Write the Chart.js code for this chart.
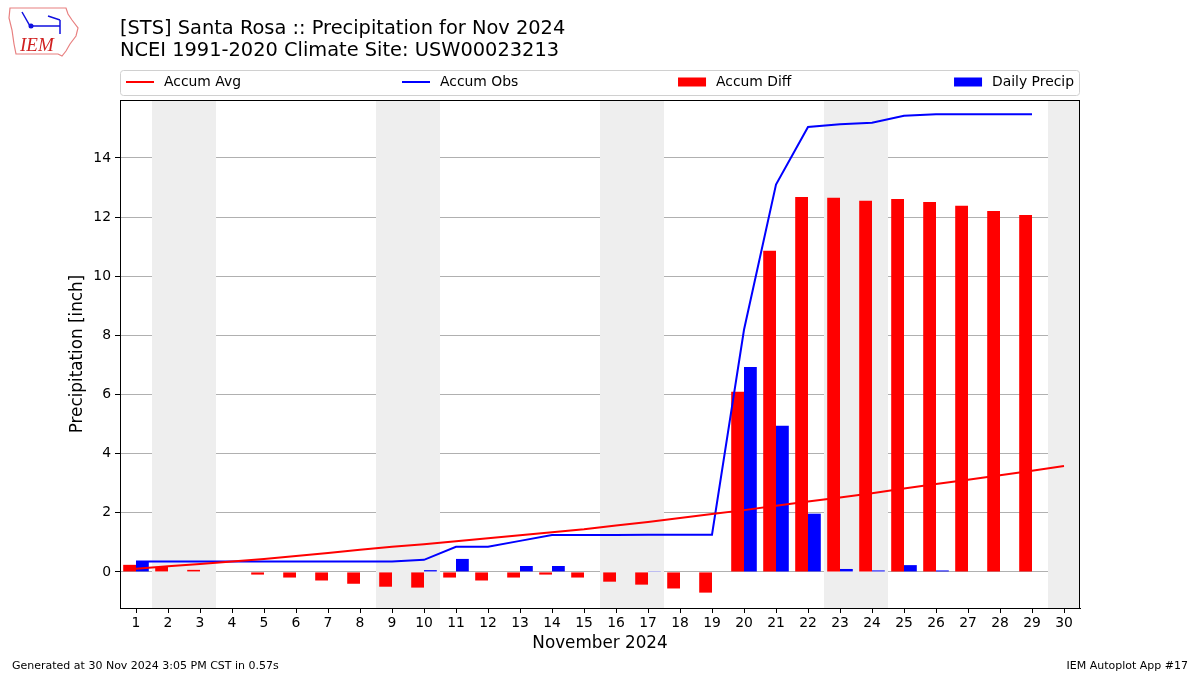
<!DOCTYPE html>
<html>
<head>
<meta charset="utf-8">
<script src="https://cdn.jsdelivr.net/npm/chart.js@4"></script>
<style>
  html, body { margin: 0; padding: 0; background: #fff; }
  canvas { display: block; }
</style>
</head>
<body>
<canvas id="chart" width="1200" height="675"></canvas>
<script>
// November 2024 days
const days = ['1','2','3','4','5','6','7','8','9','10','11','12','13','14','15',
              '16','17','18','19','20','21','22','23','24','25','26','27','28','29','30'];

// Weekend days (shaded)
const weekendDays = [2, 3, 9, 10, 16, 17, 23, 24, 30];

// Accumulated climatology average [inch]
const accumAvg = [0.11, 0.19, 0.27, 0.35, 0.44, 0.54, 0.64, 0.75, 0.85, 0.94,
                  1.04, 1.14, 1.24, 1.34, 1.44, 1.57, 1.69, 1.82, 1.96, 2.09,
                  2.24, 2.38, 2.52, 2.66, 2.82, 2.97, 3.12, 3.27, 3.42, 3.58];

// Accumulated observed [inch]
const accumObs = [0.35, 0.35, 0.35, 0.35, 0.35, 0.35, 0.35, 0.35, 0.35, 0.41,
                  0.85, 0.85, 1.05, 1.25, 1.25, 1.25, 1.26, 1.26, 1.26, 8.19,
                  13.10, 15.05, 15.14, 15.19, 15.43, 15.48, 15.48, 15.48, 15.48, null];

// Accumulated difference (obs - avg) [inch]
const accumDiff = [0.24, 0.17, 0.07, 0.0, -0.09, -0.19, -0.29, -0.40, -0.50, -0.53,
                   -0.19, -0.29, -0.19, -0.09, -0.19, -0.33, -0.43, -0.56, -0.70, 6.09,
                   10.86, 12.68, 12.65, 12.55, 12.61, 12.51, 12.38, 12.21, 12.07, null];

// Daily precipitation [inch]
const dailyPrecip = [0.35, 0, 0, 0, 0, 0, 0, 0, 0, 0.06,
                     0.44, 0, 0.20, 0.20, 0, 0, 0.01, 0, 0, 6.93,
                     4.94, 1.97, 0.10, 0.05, 0.23, 0.05, 0, 0, 0, null];

const yTicks = [0, 2, 4, 6, 8, 10, 12, 14];

const FONT = "'DejaVu Sans', sans-serif";

// Weekend shading behind the bars
const weekendShade = {
    id: 'weekendShade',
    beforeDatasetsDraw(chart) {
        const ctx = chart.ctx;
        const x = chart.scales.x;
        const area = chart.chartArea;
        const half = (x.getPixelForValue(1) - x.getPixelForValue(0)) / 2;
        ctx.save();
        ctx.fillStyle = '#eeeeee';
        weekendDays.forEach(d => {
            const cx = x.getPixelForValue(d - 1);
            const l = Math.max(area.left, cx - half);
            const r = Math.min(area.right, cx + half);
            ctx.fillRect(l, area.top, r - l, area.bottom - area.top);
        });
        ctx.restore();
    }
};

// Frame, titles, legend, footer and logo
const decorations = {
    id: 'decorations',
    afterDraw(chart) {
        const ctx = chart.ctx;
        const area = chart.chartArea;
        ctx.save();

        // plot frame
        ctx.strokeStyle = '#000';
        ctx.lineWidth = 1;
        ctx.strokeRect(area.left + 0.5, area.top + 0.5, area.right - area.left - 1, area.bottom - area.top);

        // titles
        ctx.fillStyle = '#000';
        ctx.font = '19.4px ' + FONT;
        ctx.textBaseline = 'middle';
        ctx.textAlign = 'left';
        ctx.fillText('[STS] Santa Rosa :: Precipitation for Nov 2024', 120, 29);
        ctx.fillText('NCEI 1991-2020 Climate Site: USW00023213', 120, 51);

        // legend box
        const lx = area.left, ly = 70, lw = area.right - area.left, lh = 25;
        ctx.strokeStyle = '#d0d0d0';
        ctx.lineWidth = 1;
        ctx.beginPath();
        ctx.roundRect(lx + 0.5, ly + 0.5, lw - 1, lh, 3);
        ctx.stroke();

        const items = [
            { label: 'Accum Avg', color: '#ff0000', type: 'line' },
            { label: 'Accum Obs', color: '#0000ff', type: 'line' },
            { label: 'Accum Diff', color: '#ff0000', type: 'box' },
            { label: 'Daily Precip', color: '#0000ff', type: 'box' }
        ];
        ctx.font = '13.9px ' + FONT;
        const lastW = 38 + ctx.measureText(items[3].label).width;
        const step = (lw - 12 - lastW) / 3;
        items.forEach((it, i) => {
            const sx = lx + 6 + i * step;
            const cy = ly + 12;
            if (it.type === 'line') {
                ctx.strokeStyle = it.color;
                ctx.lineWidth = 2;
                ctx.beginPath();
                ctx.moveTo(sx, cy);
                ctx.lineTo(sx + 28, cy);
                ctx.stroke();
            } else {
                ctx.fillStyle = it.color;
                ctx.fillRect(sx, cy - 4.5, 28, 9);
            }
            ctx.fillStyle = '#000';
            ctx.fillText(it.label, sx + 38, cy);
        });

        // footer
        ctx.font = '11px ' + FONT;
        ctx.fillText('Generated at 30 Nov 2024 3:05 PM CST in 0.57s', 12, 666);
        ctx.textAlign = 'right';
        ctx.fillText('IEM Autoplot App #17', 1188, 666);

        // logo
        ctx.strokeStyle = '#e88080';
        ctx.lineWidth = 1.2;
        ctx.beginPath();
        ctx.moveTo(10, 8);
        ctx.lineTo(66, 8);
        ctx.lineTo(68, 14);
        ctx.lineTo(72, 20);
        ctx.lineTo(78, 28);
        ctx.lineTo(76, 36);
        ctx.lineTo(70, 44);
        ctx.lineTo(66, 51);
        ctx.lineTo(62, 56);
        ctx.lineTo(58, 54);
        ctx.lineTo(16, 54);
        ctx.lineTo(14, 44);
        ctx.lineTo(12, 30);
        ctx.lineTo(9, 18);
        ctx.closePath();
        ctx.stroke();
        ctx.strokeStyle = '#1010e0';
        ctx.fillStyle = '#1010e0';
        ctx.lineWidth = 1.5;
        ctx.beginPath();
        ctx.moveTo(22, 12); ctx.lineTo(30, 26); ctx.lineTo(60, 26);
        ctx.moveTo(60, 20); ctx.lineTo(60, 34);
        ctx.moveTo(48, 16); ctx.lineTo(60, 20);
        ctx.stroke();
        ctx.beginPath();
        ctx.arc(31, 26, 2.5, 0, Math.PI * 2);
        ctx.fill();
        ctx.fillStyle = '#d02020';
        ctx.font = 'italic 19px "Liberation Serif", serif';
        ctx.textAlign = 'left';
        ctx.fillText('IEM', 20, 46);

        ctx.restore();
    }
};

new Chart(document.getElementById('chart'), {
    data: {
        labels: days,
        datasets: [
            {
                type: 'line', label: 'Accum Avg', data: accumAvg,
                borderColor: '#ff0000', borderWidth: 2, pointRadius: 0,
                tension: 0, order: 0
            },
            {
                type: 'line', label: 'Accum Obs', data: accumObs,
                borderColor: '#0000ff', borderWidth: 2, pointRadius: 0,
                tension: 0, order: 0
            },
            {
                type: 'bar', label: 'Accum Diff', data: accumDiff,
                backgroundColor: '#ff0000', borderWidth: 0,
                barPercentage: 1.0, categoryPercentage: 0.8, order: 1
            },
            {
                type: 'bar', label: 'Daily Precip', data: dailyPrecip,
                backgroundColor: '#0000ff', borderWidth: 0,
                barPercentage: 1.0, categoryPercentage: 0.8, order: 1
            }
        ]
    },
    options: {
        responsive: false,
        animation: false,
        devicePixelRatio: 1,
        layout: { padding: { left: 68, right: 120, top: 100, bottom: 21 } },
        plugins: {
            legend: { display: false },
            tooltip: { enabled: false },
            title: { display: false }
        },
        scales: {
            x: {
                type: 'category',
                offset: true,
                afterFit: s => { s.height = 46; },
                grid: { display: true, offset: false, drawOnChartArea: false, drawTicks: true, tickLength: 5, tickColor: '#000' },
                border: { display: true, color: '#000' },
                ticks: { color: '#000', font: { family: FONT, size: 13.9 }, padding: 2, maxRotation: 0, autoSkip: false },
                title: { display: true, text: 'November 2024', color: '#000', font: { family: FONT, size: 16.8 }, padding: 0 }
            },
            y: {
                type: 'linear',
                min: -1.22,
                max: 15.96,
                afterFit: s => { s.width = 52; },
                afterBuildTicks: s => { s.ticks = yTicks.map(v => ({ value: v })); },
                grid: { color: '#b0b0b0', lineWidth: 1, drawTicks: true, tickLength: 5, tickColor: '#000' },
                border: { display: true, color: '#000' },
                ticks: { color: '#000', font: { family: FONT, size: 13.9 }, padding: 4 },
                title: { display: true, text: 'Precipitation [inch]', color: '#000', font: { family: FONT, size: 16.8 }, padding: 0 }
            }
        }
    },
    plugins: [weekendShade, decorations]
});
</script>
</body>
</html>
